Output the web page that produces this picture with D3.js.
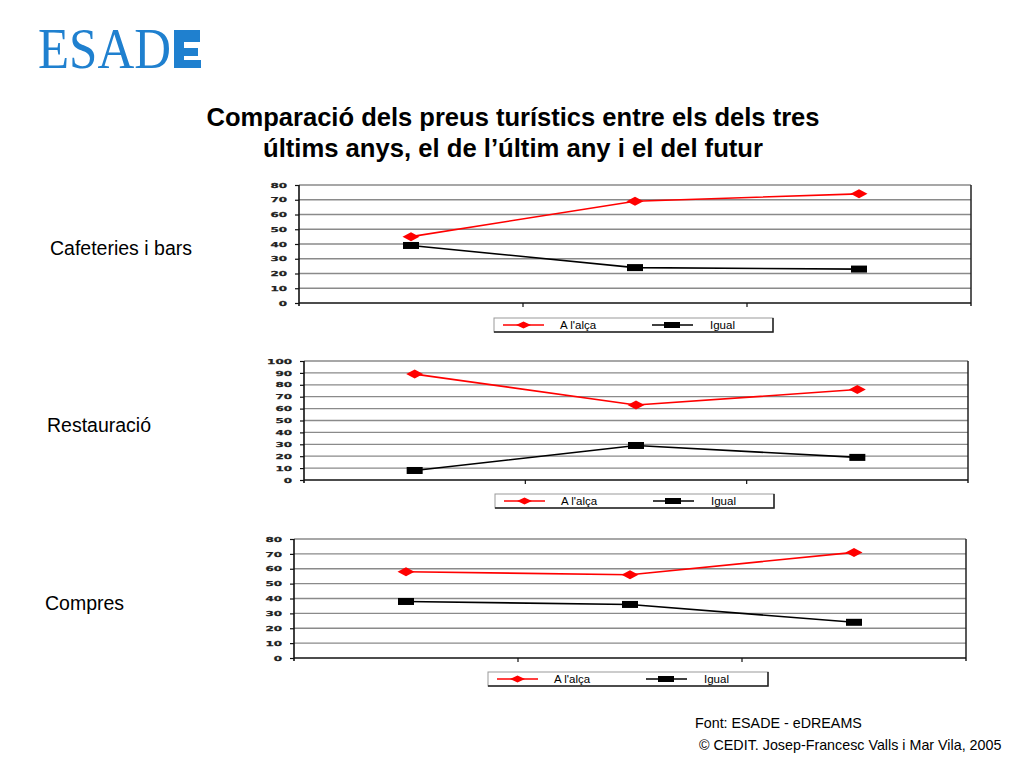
<!DOCTYPE html>
<html>
<head>
<meta charset="utf-8">
<script src="https://cdn.jsdelivr.net/npm/d3@7"></script>
<style>
  html, body { margin: 0; padding: 0; background: #fff; }
  svg { display: block; }
</style>
</head>
<body>
<script>
// ---------- DATA ----------
const categories = ["Tres últims anys", "Últim any", "Futur"];
const seriesNames = ["A l'alça", "Igual"];
const panelLabels = ["Cafeteries i bars", "Restauració", "Compres"];
const cafeteriesAlca = [45, 69, 74];
const cafeteriesIgual = [39, 24, 23];
const restauracioAlca = [89, 63, 76];
const restauracioIgual = [8, 29, 19];
const compresAlca = [58, 56, 71];
const compresIgual = [38, 36, 24];
const yMaxima = [80, 100, 80];
const titleLines = ["Comparació dels preus turístics entre els dels tres", "últims anys, el de l’últim any i el del futur"];
const footerLines = ["Font: ESADE - eDREAMS", "© CEDIT. Josep-Francesc Valls i Mar Vila, 2005"];

// ---------- LAYOUT ----------
const W = 1024, H = 768;
const svg = d3.select("body").append("svg").attr("width", W).attr("height", H);
svg.append("rect").attr("width", W).attr("height", H).attr("fill", "#fff");

// Logo
const logoColor = "#1f80cf";
const logo = svg.append("g");
logo.append("text")
  .attr("x", 38).attr("y", 68)
  .attr("font-family", "Liberation Serif, Times New Roman, serif")
  .attr("font-size", 57)
  .attr("fill", logoColor)
  .attr("textLength", 133).attr("lengthAdjust", "spacingAndGlyphs")
  .text("ESAD");
logo.append("path")
  .attr("fill", logoColor)
  .attr("d", "M174,30 H200 V42 H184 V48 H198 V56 H184 V60 H201 V68 H174 Z");

// Title (condensed bold)
const titleWidths = [613, 500];
svg.append("g").selectAll("text").data(titleLines).join("text")
  .attr("x", 513).attr("y", (d, i) => 126 + i * 31)
  .attr("text-anchor", "middle")
  .attr("font-family", "Liberation Sans, Arial, sans-serif")
  .attr("font-weight", "bold")
  .attr("font-size", 26.5)
  .attr("fill", "#000")
  .attr("textLength", (d, i) => titleWidths[i])
  .attr("lengthAdjust", "spacingAndGlyphs")
  .text(d => d);

// Footer
svg.append("g").selectAll("text").data(footerLines).join("text")
  .attr("x", (d, i) => i === 0 ? 695 : 699)
  .attr("y", (d, i) => 728 + i * 22)
  .attr("font-family", "Liberation Sans, Arial, sans-serif")
  .attr("font-size", 14.3)
  .attr("fill", "#000")
  .text(d => d);

const panels = [
  { label: panelLabels[0], alca: cafeteriesAlca, igual: cafeteriesIgual, max: yMaxima[0],
    box: { l: 299, r: 971, t: 185, b: 303 }, legend: { l: 494, r: 773, t: 318, b: 332 }, lab: { x: 50, y: 248 } },
  { label: panelLabels[1], alca: restauracioAlca, igual: restauracioIgual, max: yMaxima[1],
    box: { l: 304, r: 968, t: 361, b: 480 }, legend: { l: 495, r: 774, t: 494, b: 508 }, lab: { x: 47, y: 425 } },
  { label: panelLabels[2], alca: compresAlca, igual: compresIgual, max: yMaxima[2],
    box: { l: 294, r: 966, t: 539, b: 658 }, legend: { l: 488, r: 768, t: 672, b: 686 }, lab: { x: 45, y: 603 } }
];

const red = "#ff0000";
const diamond = (g, cx, cy, w, h) => g.append("path")
  .attr("d", `M${cx - w / 2},${cy} L${cx},${cy - h / 2} L${cx + w / 2},${cy} L${cx},${cy + h / 2} Z`)
  .attr("fill", red);

panels.forEach(p => {
  const g = svg.append("g");
  const x = d3.scaleBand().domain(categories).range([p.box.l, p.box.r]).padding(0);
  const y = d3.scaleLinear().domain([0, p.max]).range([p.box.b, p.box.t]);
  const ticks = d3.range(0, p.max + 1, 10);

  // side label
  g.append("text")
    .attr("x", p.lab.x).attr("y", p.lab.y).attr("dy", "0.35em")
    .attr("font-family", "Liberation Sans, Arial, sans-serif")
    .attr("font-size", 19.5)
    .attr("fill", "#000")
    .text(p.label);

  // gridlines
  g.append("g").selectAll("line").data(ticks.filter(t => t > 0)).join("line")
    .attr("x1", p.box.l).attr("x2", p.box.r)
    .attr("y1", d => y(d)).attr("y2", d => y(d))
    .attr("stroke", "#8a8a8a").attr("stroke-width", 1.3);

  // right border
  g.append("line")
    .attr("x1", p.box.r).attr("x2", p.box.r).attr("y1", p.box.t).attr("y2", p.box.b + 3)
    .attr("stroke", "#222").attr("stroke-width", 1.5);

  // y axis
  const yAxis = g.append("g").attr("transform", `translate(${p.box.l},0)`)
    .call(d3.axisLeft(y).tickValues(ticks).tickSize(4).tickPadding(8).tickSizeOuter(0));
  yAxis.select(".domain").attr("stroke", "#111").attr("stroke-width", 1.6)
    .attr("d", `M0,${p.box.t}V${p.box.b + 3}`);
  yAxis.selectAll(".tick line").attr("stroke", "#111").attr("stroke-width", 1.2);
  yAxis.selectAll(".tick text")
    .attr("font-family", "DejaVu Sans, sans-serif")
    .attr("font-weight", "bold")
    .attr("font-size", 6.8)
    .attr("fill", "#222")
    .attr("stroke", "#222").attr("stroke-width", 0.25)
    .attr("textLength", d => String(d).length * 8.3)
    .attr("lengthAdjust", "spacingAndGlyphs");

  // x axis (category boundaries, no labels)
  const boundaries = categories.slice(1).map(c => x(c));
  g.append("line")
    .attr("x1", p.box.l).attr("x2", p.box.r).attr("y1", p.box.b).attr("y2", p.box.b)
    .attr("stroke", "#111").attr("stroke-width", 1.6);
  g.append("g").selectAll("line").data(boundaries).join("line")
    .attr("x1", d => d).attr("x2", d => d)
    .attr("y1", p.box.b).attr("y2", p.box.b + 4)
    .attr("stroke", "#111").attr("stroke-width", 1.2);

  // lines
  const line = d3.line().x((d, i) => x(categories[i]) + x.bandwidth() / 2).y(d => y(d));
  g.append("path").datum(p.igual).attr("d", line)
    .attr("fill", "none").attr("stroke", "#000").attr("stroke-width", 1.6);
  g.append("path").datum(p.alca).attr("d", line)
    .attr("fill", "none").attr("stroke", red).attr("stroke-width", 1.6);

  // markers
  p.igual.forEach((v, i) => {
    const cx = x(categories[i]) + x.bandwidth() / 2;
    g.append("rect").attr("x", cx - 8).attr("y", y(v) - 3.5).attr("width", 16).attr("height", 7).attr("fill", "#000");
  });
  p.alca.forEach((v, i) => {
    const cx = x(categories[i]) + x.bandwidth() / 2;
    diamond(g, cx, y(v), 17, 9);
  });

  // legend
  const L = p.legend;
  const lg = g.append("g");
  lg.append("rect").attr("x", L.l).attr("y", L.t).attr("width", L.r - L.l).attr("height", L.b - L.t)
    .attr("fill", "#fff").attr("stroke", "#999").attr("stroke-width", 1);
  lg.append("path").attr("d", `M${L.l},${L.b}H${L.r}V${L.t}`)
    .attr("fill", "none").attr("stroke", "#222").attr("stroke-width", 1.5);
  const my = (L.t + L.b) / 2;
  lg.append("line").attr("x1", L.l + 9).attr("x2", L.l + 50).attr("y1", my).attr("y2", my)
    .attr("stroke", red).attr("stroke-width", 1.6);
  diamond(lg, L.l + 29.5, my, 15, 7);
  lg.append("text").attr("x", L.l + 66).attr("y", my).attr("dy", "0.36em")
    .attr("font-family", "Liberation Sans, Arial, sans-serif").attr("font-size", 11.5)
    .text(seriesNames[0]);
  lg.append("line").attr("x1", L.l + 158).attr("x2", L.l + 199).attr("y1", my).attr("y2", my)
    .attr("stroke", "#000").attr("stroke-width", 1.4);
  lg.append("rect").attr("x", L.l + 170).attr("y", my - 3).attr("width", 16).attr("height", 6).attr("fill", "#000");
  lg.append("text").attr("x", L.l + 216).attr("y", my).attr("dy", "0.36em")
    .attr("font-family", "Liberation Sans, Arial, sans-serif").attr("font-size", 11.5)
    .text(seriesNames[1]);
});
</script>
</body>
</html>
